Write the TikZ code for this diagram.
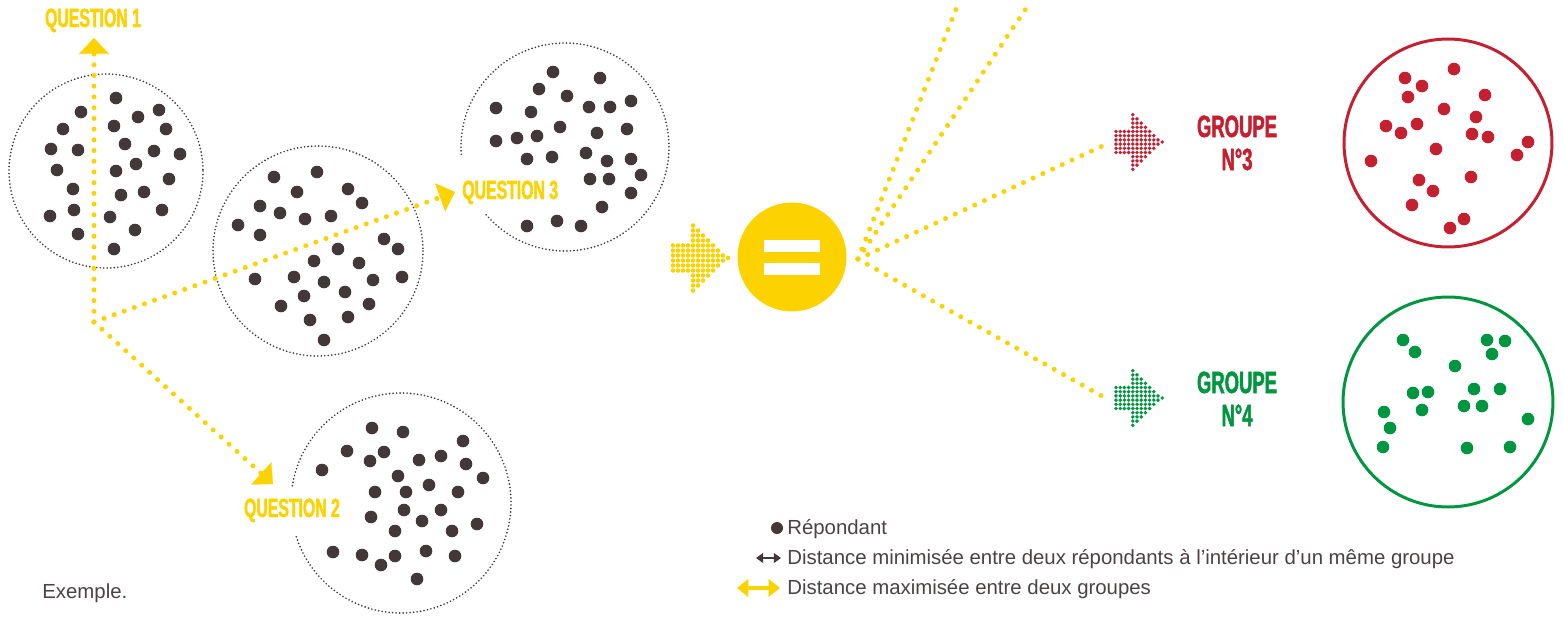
\documentclass[tikz,border=0pt]{standalone}
\usepackage{fontspec}
\setmainfont{Liberation Sans}
\newfontfamily\qfont[FakeStretch=0.6,FakeBold=1.6]{Liberation Sans Bold}
\usepackage{tikz}
\usetikzlibrary{arrows.meta}
\definecolor{qyellow}{RGB}{252,210,0}
\definecolor{dotbrown}{RGB}{67,56,57}
\definecolor{grpred}{RGB}{196,32,48}
\definecolor{grpgreen}{RGB}{0,150,64}
\definecolor{legendgray}{RGB}{74,66,67}
\tikzstyle{resp} = [fill=dotbrown]
\tikzstyle{ring} = [draw=dotbrown, line width=1.05pt, dash pattern=on 0pt off 2pt,
line cap=round]
\tikzstyle{qline} = [draw=qyellow, line width=2.85pt, dash pattern=on 0pt off 6.1pt,
line cap=round]
\tikzstyle{qhead} = [qline, -{Triangle[length=9pt,width=17pt,line width=0.1pt]}]
\tikzstyle{qlabel} = [text=qyellow, inner sep=0pt, anchor=base,
font=\qfont\fontsize{15}{15}\selectfont]
\tikzstyle{glabel} = [inner sep=0pt, anchor=base,
font=\qfont\fontsize{17.5}{18}\selectfont]
\tikzstyle{legend} = [text=legendgray, inner sep=0pt, anchor=base west,
font=\fontsize{11.6}{13}\selectfont]
\newcommand{\resps}[2][resp]{ %
  % One dot per point of the list #2.
  \foreach \x/\y in {#2} { %
    \fill[#1] (\x,\y) circle (6.3) ;%
  } ;
}
\newcommand{\dotarrow}[5]{ %
  % Arrow of dots: colour #1, left end (#2,#3), step #4, dot radius #5.
  \foreach \c/\n in {0/6,1/6,2/6,3/6,4/14,5/12,6/10,7/8,8/6,9/4,10/2,11/1} { %
    \foreach \r in {1,...,\n} { %
      \fill[#1] ({#2+\c*#4},{#3+(\r-(\n+1)/2)*#4}) circle (#5) ;%
    } ;
  } ;
}

\begin{document}
\begin{tikzpicture}[x=0.02cm, y=-0.02cm]
  \useasboundingbox (0,0) rectangle (1563,616);
  % the four samples
  \coordinate (cA) at (106,171);
  \coordinate (cB) at (318,251);
  \coordinate (cC) at (565,147);
  \coordinate (cD) at (401,503);
  \draw[ring] (cA) circle (97);
  \draw[ring] (cB) circle (105);
  \draw[ring] (cC) ++(176:104) arc[start angle=176, end angle=500, radius=104];
  \draw[ring] (cD) ++(189:110) arc[start angle=189, end angle=523, radius=110];
  \resps{116/98,81/112,159/110,138/117,63/129,114/126,166/129,51/149,78/150,
    125/144,154/151,180/154,57/170,116/171,136/164,169/179,73/189,121/195,
    144/192,50/216,74/210,110/217,162/210,78/234,135/230,114/249}
  \resps{274/177,317/172,297/192,348/189,260/206,280/213,305/219,331/216,
    362/203,238/225,260/235,384/239,398/249,338/249,314/261,359/263,255/279,
    294/277,324/282,373/280,402/277,345/292,304/296,369/304,281/306,348/317,
    310/320,324/340}
  \resps{553/72,600/78,539/89,567/96,496/108,531/112,589/107,610/107,631/101,
    560/127,597/133,627/129,496/141,517/138,537/136,527/159,552/157,586/153,
    607/161,631/159,590/179,609/179,641/175,631/193,602/207,527/226,557/221,
    581/226}
  \resps{372/428,403/432,463/441,347/451,384/452,441/456,322/470,370/461,
    419/460,466/464,398/476,483/478,429/485,375/492,406/492,458/492,404/510,
    441/510,371/517,422/521,477/524,395/531,452/531,333/552,362/555,395/556,
    426/551,455/556,381/565,417/579}
  % questions
  \coordinate (qo) at (94,322);
  \coordinate (q1tip) at (94,38);
  \coordinate (q2tip) at (273,484);
  \coordinate (q3tip) at (455,192);
  \draw[qhead] (qo) -- (q1tip);
  \draw[qhead] (qo) -- (q2tip);
  \draw[qhead] (qo) -- (q3tip);
  \node[qlabel](q1) at (93,27) {QUESTION 1};
  \node[qlabel](q2) at (292,517) {QUESTION 2};
  \node[qlabel, anchor=base west](q3) at (462,199) {QUESTION 3};
  % result
  \dotarrow{qyellow}{673}{258}{5}{2.3}
  \node[circle, fill=qyellow, minimum size=2.18cm, inner sep=0pt](eq) at (792,257) {};
  \fill[white] (764,240) rectangle (820,252);
  \fill[white] (764,263) rectangle (820,275);
  \coordinate (fan) at (858,259);
  \coordinate (up1) at (958,4);
  \coordinate (up2) at (1029,4);
  \coordinate (g3in) at (1109,143);
  \coordinate (g4in) at (1107,399);
  \draw[qline] (fan) -- (up1);
  \draw[qline] (fan) -- (up2);
  \draw[qline] (fan) -- (g3in);
  \draw[qline] (fan) -- (g4in);
  \dotarrow{grpred}{1116}{142}{4.2}{1.95}
  \dotarrow{grpgreen}{1116}{398}{4.2}{1.95}
  \node[glabel, text=grpred](g3a) at (1237,137) {GROUPE};
  \node[glabel, text=grpred](g3b) at (1237,170) {N°3};
  \node[glabel, text=grpgreen](g4a) at (1237,393) {GROUPE};
  \node[glabel, text=grpgreen](g4b) at (1237,426) {N°4};
  \node[circle, draw=grpred, line width=1.7pt, minimum size=4.16cm](g3ring) at (1448,143) {};
  \node[circle, draw=grpgreen, line width=1.7pt, minimum size=4.2cm](g4ring) at (1448,402) {};
  \resps[fill=grpred]{1405/78,1422/86,1454/69,1408/97,1444/109,1485/95,
    1386/126,1401/133,1417/124,1472/134,1488/137,1476/117,1528/142,1517/155,
    1371/161,1436/149,1419/180,1433/191,1471/177,1412/205,1464/219,1450/228}
  \resps[fill=grpgreen]{1403/340,1415/352,1487/340,1505/341,1492/354,
    1455/366,1413/393,1428/392,1474/389,1500/389,1464/406,1482/406,1384/412,
    1422/410,1390/428,1528/419,1383/447,1467/448,1510/447}
  % legend
  \node[circle, fill=dotbrown, minimum size=0.24cm, inner sep=0pt](lgdot) at (777,528) {};
  \node[legend](lg1) at (787,534) {Répondant};
  \coordinate (lga) at (756,558);
  \coordinate (lgb) at (781,558);
  \draw[dotbrown, line width=0.85pt,
    {Triangle[length=4pt,width=5.5pt]}-{Triangle[length=4pt,width=5.5pt]}] (lga) -- (lgb);
  \node[legend](lg2) at (787,564) {Distance minimisée entre deux répondants à l’intérieur d’un même groupe};
  \coordinate (lgc) at (737,588);
  \coordinate (lgd) at (780,588);
  \draw[qyellow, line width=2.3pt,
    {Triangle[length=6.5pt,width=10pt]}-{Triangle[length=6.5pt,width=10pt]}] (lgc) -- (lgd);
  \node[legend](lg3) at (787,594) {Distance maximisée entre deux groupes};
  \node[legend](ex) at (42,598) {Exemple.};
\end{tikzpicture}
\end{document}
